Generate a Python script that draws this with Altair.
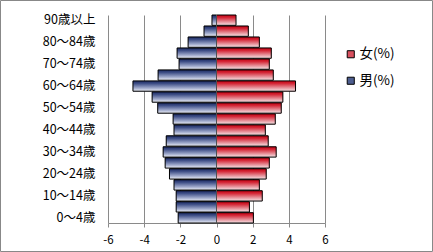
import altair as alt
import pandas as pd

ages = ["0～4歳", "5～9歳", "10～14歳", "15～19歳", "20～24歳", "25～29歳", "30～34歳",
        "35～39歳", "40～44歳", "45～49歳", "50～54歳", "55～59歳", "60～64歳", "65～69歳",
        "70～74歳", "75～79歳", "80～84歳", "85～89歳", "90歳以上"]
male = [2.12, 2.23, 2.23, 2.35, 2.60, 2.84, 2.95, 2.78, 2.35, 2.40, 3.25, 3.56, 4.62,
        3.23, 2.07, 2.18, 1.57, 0.69, 0.25]
female = [2.04, 1.82, 2.53, 2.37, 2.75, 2.92, 3.30, 2.86, 2.70, 3.25, 3.58, 3.67, 4.37,
          3.14, 2.92, 3.03, 2.37, 1.76, 1.08]
series = ["女(%)", "男(%)"]
x_ticks = [-6, -4, -2, 0, 2, 4, 6]
label_ages = ages[::2]

FONT = "Noto Sans CJK JP"

rows = []
for a, m, f in zip(ages, male, female):
    rows.append({"age": a, "sex": series[1], "value": -m})
    rows.append({"age": a, "sex": series[0], "value": f})
df = pd.DataFrame(rows)

y_order = list(reversed(ages))
xscale = alt.Scale(domain=[-6, 6], nice=False, zero=False)
yscale = alt.Scale(domain=y_order, paddingInner=0.06, paddingOuter=0.0)

x_axis = alt.Axis(values=x_ticks, grid=True, gridColor="#8a8a8a", domainColor="#8a8a8a",
                  tickColor="#8a8a8a", tickSize=4, labelPadding=7, labelFontSize=11.5,
                  labelFont=FONT, labelColor="#000000", labelFlush=False,
                  labelOverlap=False, labelBound=False, labelExpr="'' + datum.value")
y_axis = alt.Axis(values=label_ages, domain=False, ticks=False, labelPadding=13,
                  labelFontSize=12.5, labelFont=FONT, labelColor="#000000",
                  labelOverlap=False)

x_enc = alt.X("value:Q", scale=xscale, title=None, axis=x_axis)
y_enc = alt.Y("age:N", scale=yscale, sort=y_order, title=None, axis=y_axis)

legend_layer = alt.Chart(df).mark_bar().encode(
    x=x_enc, x2=alt.datum(0), y=y_enc,
    color=alt.Color("sex:N", scale=alt.Scale(domain=series, range=["#d8505e", "#4d5d8f"]),
                    legend=alt.Legend(title=None, orient="none", legendX=236, legendY=32.5,
                                      symbolType="square", symbolSize=50, symbolStrokeColor="#000000",
                                      symbolStrokeWidth=1, labelFont=FONT, labelFontSize=13.5,
                                      labelColor="#000000", rowPadding=11.5, labelOffset=2))
)

blue_grad = alt.Gradient(gradient="linear", x1=0, x2=0, y1=0, y2=1, stops=[
    alt.GradientStop(offset=0, color="#1a2860"),
    alt.GradientStop(offset=0.25, color="#3d4d85"),
    alt.GradientStop(offset=0.7, color="#a0aacc"),
    alt.GradientStop(offset=1, color="#f0f2f8")])
red_grad = alt.Gradient(gradient="linear", x1=0, x2=0, y1=0, y2=1, stops=[
    alt.GradientStop(offset=0, color="#c00010"),
    alt.GradientStop(offset=0.25, color="#d42636"),
    alt.GradientStop(offset=0.7, color="#e89aa2"),
    alt.GradientStop(offset=1, color="#f8e6e8")])

male_bars = alt.Chart(df).transform_filter(alt.datum.sex == series[1]).mark_bar(
    fill=blue_grad, stroke="#000000", strokeWidth=1).encode(x=x_enc, x2=alt.datum(0), y=y_enc)
female_bars = alt.Chart(df).transform_filter(alt.datum.sex == series[0]).mark_bar(
    fill=red_grad, stroke="#000000", strokeWidth=1).encode(x=x_enc, x2=alt.datum(0), y=y_enc)

zero_rule = alt.Chart(alt.Data(values=[{}])).mark_rule(color="#505050", strokeWidth=1).encode(
    x=alt.X(datum=0, scale=xscale, axis=x_axis, title=None))

frame = alt.Chart(alt.Data(values=[{}])).mark_rect(
    fill="#ffffff", fillOpacity=0, stroke="#888888", strokeWidth=1).encode(
    x=alt.value(-107.5), x2=alt.value(324.5), y=alt.value(-14.5), y2=alt.value(236.5))

chart = alt.layer(legend_layer, male_bars, female_bars, zero_rule, frame).properties(
    width=217, height=208,
    autosize=alt.AutoSizeParams(type="none"),
    padding={"left": 108, "top": 15, "right": 108, "bottom": 29},
    background="#ffffff",
).configure_view(stroke=None)

chart.save("out.html", embed_options={"renderer": "svg", "actions": False})
